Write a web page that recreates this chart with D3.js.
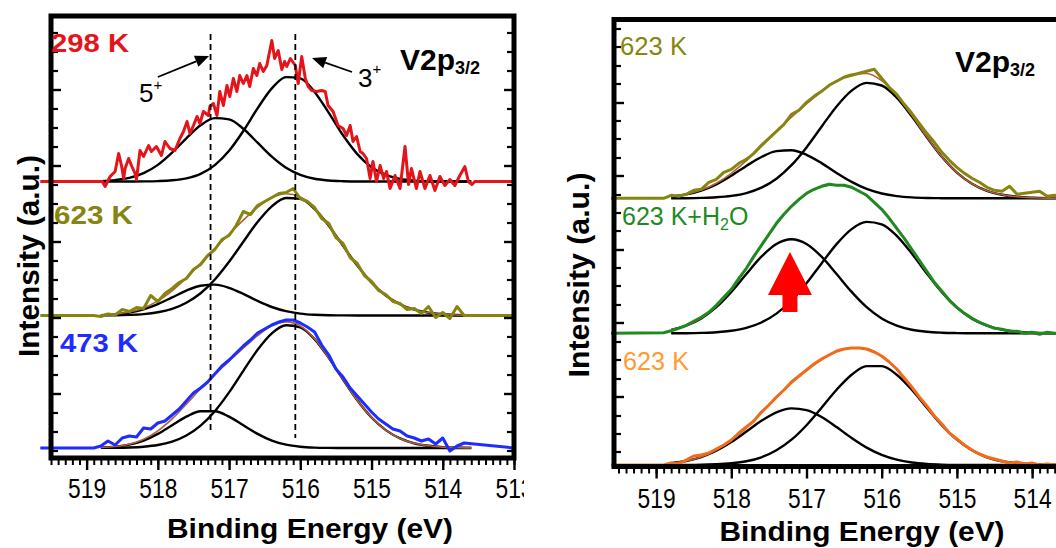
<!DOCTYPE html>
<html>
<head>
<meta charset="utf-8">
<script src="https://cdn.jsdelivr.net/npm/d3@7"></script>
<style>
body { margin: 0; background: #fff; }
svg { display: block; font-family: 'Liberation Sans', Arial, sans-serif; }
</style>
</head>
<body>
<svg id="fig" width="1056" height="548"></svg>
<script>
// ---- data (binding energy in eV, intensity in a.u.) ----
var gridE = [518.9, 518.8, 518.7, 518.6, 518.5, 518.4, 518.3, 518.2, 518.1, 518.0,
             517.9, 517.8, 517.7, 517.6, 517.5, 517.4, 517.3, 517.2, 517.1, 517.0,
             516.9, 516.8, 516.7, 516.6, 516.5, 516.4, 516.3, 516.2, 516.1, 516.0,
             515.9, 515.8, 515.7, 515.6, 515.5, 515.4, 515.3, 515.2, 515.1, 515.0,
             514.9, 514.8, 514.7, 514.6, 514.5, 514.4, 514.3, 514.2, 514.1, 514.0,
             513.9, 513.8, 513.7];
var fitE = [518.8, 518.6, 518.4, 518.2, 518.0, 517.8, 517.6, 517.4, 517.2, 517.0,
            516.8, 516.6, 516.4, 516.2, 516.0, 515.8, 515.6, 515.4, 515.2, 515.0,
            514.8, 514.6, 514.4, 514.2, 514.0, 513.8, 513.6];

// left panel: 298 K (raw, noisy)
var redE = [518.78, 518.74, 518.67, 518.60, 518.55, 518.51, 518.48, 518.46, 518.41, 518.37,
            518.32, 518.30, 518.25, 518.20, 518.13, 518.09, 518.02, 517.95, 517.90, 517.83,
            517.76, 517.69, 517.64, 517.59, 517.55, 517.50, 517.45, 517.41, 517.36, 517.29,
            517.27, 517.22, 517.17, 517.13, 517.08, 517.03, 516.99, 516.94, 516.89, 516.85,
            516.80, 516.75, 516.71, 516.66, 516.61, 516.57, 516.52, 516.47, 516.40, 516.36,
            516.31, 516.26, 516.22, 516.19, 516.14, 516.07, 516.03, 515.98, 515.93, 515.89,
            515.84, 515.77, 515.70, 515.65, 515.61, 515.54, 515.47, 515.40, 515.35, 515.30,
            515.26, 515.21, 515.16, 515.12, 515.07, 515.02, 514.98, 514.93, 514.88, 514.83,
            514.79, 514.74, 514.67, 514.60, 514.53, 514.48, 514.44, 514.37, 514.32, 514.25,
            514.18, 514.11, 514.04, 513.97, 513.90, 513.83, 513.76, 513.69, 513.64, 513.59, 513.55];
var redI = [0, -5, 5, 10, 28, 16, 3, 13, 23, 16,
            8, 2, 31, 25, 36, 30, 35, 26, 40, 33,
            31, 43, 50, 60, 48, 56, 65, 58, 70, 66,
            75, 78, 66, 90, 76, 96, 85, 103, 90, 106,
            98, 106, 95, 113, 106, 118, 110, 116, 141, 123,
            131, 112, 120, 115, 123, 116, 98, 125, 103, 95,
            91, 90, 91, 90, 76, 70, 56, 53, 46, 56,
            40, 45, 30, 28, 23, 3, 20, 0, 16, 3,
            10, -7, 6, -7, 35, -3, 13, -7, 10, -7,
            6, -9, 5, -4, 2, -4, 6, 15, 0, -3, 0];
var red5 = [0.4, 1.4, 3.6, 8.3, 16.6, 28.8, 43.2, 56.2, 63.4, 62.1, 52.7, 38.8, 24.8, 13.7,
            6.6, 2.7, 1.0, 0.3, 0, 0, 0, 0, 0, 0, 0, 0, 0];
var red3 = [0, 0, 0, 0.1, 0.4, 1.2, 3.2, 7.7, 16.4, 30.7, 50.5, 73.1, 93.1, 104.4,
            103.1, 89.6, 68.6, 46.2, 27.4, 14.3, 6.6, 2.6, 0.9, 0.3, 0, 0, 0];

// left panel: 623 K
var oliveLI = [0, -1, 1.5, 0.5, 6, 4, 8, 7, 20, 14,
               22, 27, 33, 37, 46, 51, 60, 66, 76, 80,
               90, 104, 101, 110, 114, 118, 122, 123, 127, 117,
               114, 108, 97, 92, 78, 72, 58, 52, 40, 34,
               25, 21, 14, 12, 6, 7, 2, 9, -2, 3,
               -3, 9, 0];
var oliveL5 = [0.4, 1.2, 2.9, 6.2, 11.4, 18.1, 24.9, 29.8, 30.9, 27.7, 21.6, 14.6, 8.5, 4.3,
               1.9, 0.7, 0.2, 0.1, 0, 0, 0, 0, 0, 0, 0, 0, 0];
var oliveL3 = [0.1, 0.2, 0.6, 1.4, 3.2, 6.6, 12.7, 22.2, 36.0, 53.7, 73.8, 93.5, 109.2, 117.5,
               116.6, 106.6, 89.8, 69.7, 49.9, 32.9, 20.0, 11.2, 5.8, 2.8, 1.2, 0.5, 0.2];
var oliveLEnv = [0.5, 1.4, 3.5, 7.6, 14.6, 24.7, 37.6, 52.0, 66.9, 81.4, 95.4, 108.1, 117.7, 121.8,
                 118.5, 107.3, 90.0, 69.8, 49.9, 32.9, 20.0, 11.2, 5.8, 2.8, 1.2, 0.5, 0.2];

// left panel: 473 K
var blueI = [0, 2, 7, 3, 10, 12, 11, 20, 19, 25,
             27, 33, 39, 47, 55, 60, 66, 74, 82, 88,
             95, 102, 108, 115, 119, 123, 126, 128, 128, 125,
             121, 116, 103, 93, 79, 71, 60, 52, 44, 36,
             29, 24, 19, 17, 12, 10, 7, 9, 4, 10,
             -3, 2, 5];
var blue5 = [0.4, 1.3, 3.3, 7.4, 14.1, 22.7, 31.3, 36.8, 36.8, 31.3, 22.7, 14.1, 7.4, 3.3,
             1.3, 0.4, 0.1, 0, 0, 0, 0, 0, 0, 0, 0, 0, 0];
var blue3 = [0.1, 0.2, 0.5, 1.3, 3.0, 6.4, 12.5, 22.4, 36.8, 55.6, 77.2, 98.2, 114.7, 122.8,
             120.7, 108.9, 90.1, 68.4, 47.7, 30.5, 17.9, 9.6, 4.7, 2.2, 0.9, 0.3, 0.1];
var blueEnv = [0.5, 1.5, 3.8, 8.7, 17.1, 29.1, 43.8, 59.2, 73.6, 86.9, 99.9, 112.3, 122.1, 126.1,
               122.0, 109.3, 90.2, 68.4, 47.7, 30.5, 17.9, 9.6, 4.7, 2.2, 0.9, 0.3, 0.1];

// right panel: 623 K (top)
var oliveRI = [0, 3, 2, 4, 8, 9, 16, 19, 26, 29,
               35, 39, 45, 53, 60, 67, 74, 84, 88, 96,
               102, 107, 113, 117, 121, 123, 125, 127, 129, 120,
               111, 104, 94, 85, 75, 65, 56, 46, 38, 31,
               25, 20, 16, 11, 8, 7, 12, 4, 5, 6,
               7, 2, 3];
var oliveR5 = [1.7, 3.9, 7.8, 14.0, 22.6, 32.4, 41.3, 47.2, 48.0, 43.5, 35.2, 25.4, 16.4, 9.4,
               4.8, 2.2, 0.9, 0.3, 0.1, 0, 0, 0, 0, 0, 0, 0, 0];
var oliveR3 = [0, 0.1, 0.4, 1.0, 2.4, 5.2, 10.6, 19.6, 33.1, 50.9, 71.6, 91.9, 107.7, 115.4,
               112.8, 100.7, 82.0, 61.1, 41.5, 25.7, 14.6, 7.5, 3.6, 1.5, 0.6, 0.2, 0.1];
var oliveREnv = [1.7, 4.0, 8.2, 15.0, 25.0, 37.6, 51.9, 66.8, 81.1, 94.4, 106.8, 117.3, 124.1, 124.8,
                 117.6, 102.9, 82.9, 61.4, 41.6, 25.7, 14.6, 7.5, 3.6, 1.5, 0.6, 0.2, 0.1];

// right panel: 623 K + H2O
var greenI = [0.5, 2.5, 5, 8, 12, 16, 21, 28, 36, 44,
              55, 65, 77, 88, 99, 110, 119, 127, 134, 140,
              144, 147, 149, 148, 148, 146, 142, 138, 131, 124,
              115, 105, 95, 84, 73, 62, 51, 42, 33, 26,
              20, 15, 11, 8, 5, 4, 2, 2, 0, 1,
              -1, 1, 0];
var green5 = [3.5, 7.6, 14.8, 26.1, 41.4, 59.3, 76.6, 89.3, 94.0, 89.3, 76.6, 59.3, 41.4, 26.1,
              14.8, 7.6, 3.5, 1.5, 0.6, 0.2, 0, 0, 0, 0, 0, 0, 0];
var green3 = [0, 0.1, 0.4, 1.0, 2.5, 5.4, 10.8, 19.7, 32.8, 50.0, 69.9, 89.2, 104.2, 111.4,
              108.9, 97.5, 79.8, 59.8, 41.0, 25.7, 14.7, 7.7, 3.7, 1.6, 0.7, 0.2, 0.1];
var greenEnv = [3.5, 7.7, 15.2, 27.1, 43.9, 64.7, 87.4, 109.0, 126.8, 139.3, 146.5, 148.5, 145.6, 137.5,
                123.7, 105.1, 83.3, 61.3, 41.6, 25.9, 14.7, 7.7, 3.7, 1.6, 0.7, 0.2, 0.1];

// right panel: 623 K (bottom)
var orangeI = [0, 2, 1, 5, 9, 10, 12, 16, 20, 25,
               32, 38, 44, 53, 60, 68, 75, 83, 89, 95,
               101, 106, 110, 114, 116, 117, 117, 116, 113, 109,
               103, 96, 87, 78, 68, 59, 49, 41, 32, 26,
               20, 15, 11, 8, 6, 4, 2, 3, 1, 2,
               0, 1, 0];
var orange5 = [1.8, 4.0, 7.9, 14.2, 22.9, 33.5, 44.2, 52.7, 56.6, 54.9, 48.0, 37.9, 27.0, 17.4,
               10.1, 5.3, 2.5, 1.1, 0.4, 0.1, 0, 0, 0, 0, 0, 0, 0];
var orange3 = [0, 0.1, 0.2, 0.7, 1.7, 3.7, 7.7, 14.7, 25.3, 39.8, 57.3, 75.3, 90.3, 98.9,
               98.9, 90.3, 75.3, 57.3, 39.8, 25.3, 14.7, 7.7, 3.7, 1.7, 0.7, 0.2, 0.1];
var orangeEnv = [1.8, 4.1, 8.1, 14.9, 24.6, 37.2, 51.9, 67.4, 81.9, 94.7, 105.3, 113.2, 117.3, 116.3,
                 109.0, 95.6, 77.8, 58.4, 40.2, 25.4, 14.7, 7.7, 3.7, 1.7, 0.7, 0.2, 0.1];

// stacking offsets (a.u.)
var leftOffsets = [266.5, 132.5, 0];
var rightOffsets = [266.7, 131.7, 0];

// axes ticks
var leftXTicks = [519, 518, 517, 516, 515, 514, 513];
var rightXTicks = [519, 518, 517, 516, 515, 514];
var leftYMajor = [54, 130, 206, 282, 358];
var leftYMinor = [-3, 16, 35, 73, 92, 111, 149, 168, 187, 225, 244, 263, 301, 320, 339, 377, 396, 415];
var rightYMajor = [68, 142, 215, 289, 362];
var rightYMinor = [13, 31, 49, 86, 105, 123, 160, 179, 197, 234, 252, 270, 307, 326, 344, 381, 399, 418, 436];

// reference energies of V5+ and V3+
var refLinesE = [517.26, 516.07];

var C = {
  red: "#e5141b", olive: "#85850f", blue: "#1e2cff",
  green: "#1f8a1f", orange: "#f26a1c", orangeLbl: "#ff9b2f", env: "#b0603a"
};

var svg = d3.select("#fig");
var defs = svg.append("defs");

function drawPanel(p) {
  var g = svg.append("g");
  defs.append("clipPath").attr("id", p.id).append("rect")
    .attr("x", p.clip[0]).attr("y", 0).attr("width", p.clip[1] - p.clip[0]).attr("height", 548);
  g.attr("clip-path", "url(#" + p.id + ")");
  var x = p.x, y = p.y;
  var smooth = d3.line().curve(d3.curveMonotoneX).x(function(d) { return x(d[0]); }).y(function(d) { return y(d[1]); });
  var rough = d3.line().x(function(d) { return x(d[0]); }).y(function(d) { return y(d[1]); });

  p.series.forEach(function(s) {
    s.fits.forEach(function(f) {
      g.append("path")
        .attr("d", smooth(fitE.map(function(e, i) { return [e, f[i] + s.off]; })))
        .attr("fill", "none").attr("stroke", "#000").attr("stroke-width", 2.4);
    });
    if (s.env) {
      g.append("path")
        .attr("d", smooth(fitE.map(function(e, i) { return [e, s.env[i] + s.off]; })))
        .attr("fill", "none").attr("stroke", C.env).attr("stroke-width", 1.6);
    }
    var pts = [[p.edge[0], s.off]]
      .concat(s.E.map(function(e, i) { return [e, s.I[i] + s.off]; }))
      .concat([[p.edge[1], s.off]]);
    g.append("path").attr("d", rough(pts))
      .attr("fill", "none").attr("stroke", s.color).attr("stroke-width", 3)
      .attr("stroke-linejoin", "round");
  });

  var x0 = x.range()[0], x1 = x.range()[1];
  var yb = y.range()[0];

  // bottom axis: minor and major ticks, outward
  var minor = g.append("g").attr("transform", "translate(0," + yb + ")")
    .call(d3.axisBottom(x).tickValues(x.ticks(70)).tickSize(7).tickFormat(""));
  minor.select(".domain").remove();
  minor.selectAll("line").attr("stroke-width", 2);
  var major = g.append("g").attr("transform", "translate(0," + yb + ")")
    .call(d3.axisBottom(x).tickValues(p.xTicks).tickSize(12).tickFormat(d3.format("d")));
  major.select(".domain").remove();
  major.selectAll("line").attr("stroke-width", 2.4);
  major.selectAll("text")
    .attr("y", p.labelDy).attr("dy", null)
    .attr("font-size", 27).attr("fill", "#000")
    .attr("font-family", "'Liberation Sans', Arial, sans-serif")
    .attr("textLength", 38).attr("lengthAdjust", "spacingAndGlyphs");

  // inner y ticks on left (and right if visible)
  var sides = p.rightTicks ? [[x0, 1], [x1, -1]] : [[x0, 1]];
  sides.forEach(function(sd) {
    p.yMinor.forEach(function(v) {
      g.append("line").attr("x1", sd[0]).attr("x2", sd[0] + sd[1] * 7)
        .attr("y1", y(v)).attr("y2", y(v)).attr("stroke", "#000").attr("stroke-width", 2.2);
    });
    p.yMajor.forEach(function(v) {
      g.append("line").attr("x1", sd[0]).attr("x2", sd[0] + sd[1] * 10)
        .attr("y1", y(v)).attr("y2", y(v)).attr("stroke", "#000").attr("stroke-width", 2.4);
    });
  });
  return g;
}

// ---- left panel ----
var xL = d3.scaleLinear().domain([519.5, 513.0]).range([51, 514]);
var yL = d3.scaleLinear().domain([-10, 432]).range([458, 16]);
var gL = drawPanel({
  id: "clipL", clip: [0, 524], x: xL, y: yL, edge: [519.65, 513.0],
  xTicks: leftXTicks, labelDy: 40, yMajor: leftYMajor, yMinor: leftYMinor, rightTicks: true,
  series: [
    { E: redE, I: redI, off: leftOffsets[0], color: C.red, fits: [red5, red3] },
    { E: gridE, I: oliveLI, off: leftOffsets[1], color: C.olive, fits: [oliveL5, oliveL3], env: oliveLEnv },
    { E: gridE, I: blueI, off: leftOffsets[2], color: C.blue, fits: [blue5, blue3], env: blueEnv }
  ]
});

// dashed reference lines
[[refLinesE[0], 16], [refLinesE[1], 10]].forEach(function(r) {
  gL.append("line").attr("x1", xL(r[0])).attr("x2", xL(r[0]))
    .attr("y1", yL(414)).attr("y2", yL(r[1]))
    .attr("stroke", "#000").attr("stroke-width", 1.8).attr("stroke-dasharray", "6,4");
});

// arrows for 5+ and 3+
function arrow(g, sx, sy, tx, ty) {
  var dx = tx - sx, dy = ty - sy, L = Math.sqrt(dx * dx + dy * dy);
  var ux = dx / L, uy = dy / L, hl = 14, hw = 6;
  var bx = tx - ux * hl, by = ty - uy * hl;
  g.append("line").attr("x1", sx).attr("y1", sy).attr("x2", bx).attr("y2", by)
    .attr("stroke", "#000").attr("stroke-width", 1.8);
  g.append("polygon").attr("points", [[tx, ty], [bx - uy * hw, by + ux * hw], [bx + uy * hw, by - ux * hw]].join(" "))
    .attr("fill", "#000");
}
arrow(gL, xL(518.0), yL(371), xL(517.28), yL(392));
arrow(gL, xL(515.274), yL(376), xL(515.836), yL(390));

// frame left
gL.append("rect").attr("x", 51).attr("y", 16).attr("width", 463).attr("height", 442)
  .attr("fill", "none").attr("stroke", "#000").attr("stroke-width", 5);

function label(g, txt, x, y, size, weight, color, len) {
  var t = g.append("text").attr("x", x).attr("y", y).attr("font-size", size)
    .attr("font-weight", weight).attr("fill", color).text(txt);
  if (len) t.attr("textLength", len).attr("lengthAdjust", "spacingAndGlyphs");
  return t;
}
label(gL, "298 K", 51, 52, 26, "bold", C.red, 78);
label(gL, "623 K", 54, 224, 26, "bold", C.olive, 79);
label(gL, "473 K", 60, 352, 26, "bold", C.blue, 78);

var vL = gL.append("text").attr("x", 400).attr("y", 70).attr("font-size", 30)
  .attr("font-weight", "bold").attr("fill", "#000");
vL.append("tspan").text("V2p");
vL.append("tspan").attr("font-size", 18).attr("dy", 4).text("3/2");

var s5 = gL.append("text").attr("x", 139).attr("y", 102).attr("font-size", 26).attr("fill", "#000");
s5.append("tspan").text("5");
s5.append("tspan").attr("font-size", 15).attr("dy", -12).text("+");
var s3 = gL.append("text").attr("x", 358).attr("y", 87).attr("font-size", 26).attr("fill", "#000");
s3.append("tspan").text("3");
s3.append("tspan").attr("font-size", 15).attr("dy", -13).text("+");

gL.append("text").attr("transform", "translate(39,256) rotate(-90)")
  .attr("text-anchor", "middle").attr("font-size", 29).attr("font-weight", "bold")
  .attr("textLength", 202).attr("lengthAdjust", "spacingAndGlyphs").text("Intensity (a.u.)");
gL.append("text").attr("x", 310).attr("y", 538).attr("text-anchor", "middle")
  .attr("font-size", 27).attr("font-weight", "bold")
  .attr("textLength", 286).attr("lengthAdjust", "spacingAndGlyphs").text("Binding Energy (eV)");

// ---- right panel ----
var xR = d3.scaleLinear().domain([519.56, 513.5]).range([614, 1069.7]);
var yR = d3.scaleLinear().domain([-1.5, 445.5]).range([466.5, 19.5]);
var gR = drawPanel({
  id: "clipR", clip: [560, 1056], x: xR, y: yR, edge: [519.6, 513.3],
  xTicks: rightXTicks, labelDy: 41.5, yMajor: rightYMajor, yMinor: rightYMinor, rightTicks: false,
  series: [
    { E: gridE, I: oliveRI, off: rightOffsets[0], color: C.olive, fits: [oliveR5, oliveR3], env: oliveREnv },
    { E: gridE, I: greenI, off: rightOffsets[1], color: C.green, fits: [green5, green3], env: greenEnv },
    { E: gridE, I: orangeI, off: rightOffsets[2], color: C.orange, fits: [orange5, orange3], env: orangeEnv }
  ]
});

// red arrow (growth of V5+)
var ax = xR(517.22);
gR.append("polygon").attr("points", [
  [ax, yR(213)], [ax + 22, yR(170)], [ax + 7.5, yR(170)], [ax + 7.5, yR(153)],
  [ax - 7.5, yR(153)], [ax - 7.5, yR(170)], [ax - 22, yR(170)]
].join(" ")).attr("fill", "#ff0000");

gR.append("rect").attr("x", 614).attr("y", 19.5).attr("width", 455.7).attr("height", 447)
  .attr("fill", "none").attr("stroke", "#000").attr("stroke-width", 5);

label(gR, "623 K", 620, 55, 25, "normal", C.olive, 67);
var gl = gR.append("text").attr("x", 622).attr("y", 225).attr("font-size", 25).attr("fill", C.green);
gl.append("tspan").text("623 K+H");
gl.append("tspan").attr("font-size", 16).attr("dy", 5).text("2");
gl.append("tspan").attr("dy", -5).text("O");
label(gR, "623 K", 623, 370, 25, "normal", C.orangeLbl, 66);

var vR = gR.append("text").attr("x", 955).attr("y", 72).attr("font-size", 30)
  .attr("font-weight", "bold").attr("fill", "#000");
vR.append("tspan").text("V2p");
vR.append("tspan").attr("font-size", 18).attr("dy", 4).text("3/2");

gR.append("text").attr("transform", "translate(589,275) rotate(-90)")
  .attr("text-anchor", "middle").attr("font-size", 29).attr("font-weight", "bold")
  .attr("textLength", 205).attr("lengthAdjust", "spacingAndGlyphs").text("Intensity (a.u.)");
gR.append("text").attr("x", 862).attr("y", 541).attr("text-anchor", "middle")
  .attr("font-size", 27).attr("font-weight", "bold")
  .attr("textLength", 285).attr("lengthAdjust", "spacingAndGlyphs").text("Binding Energy (eV)");
</script>
</body>
</html>
